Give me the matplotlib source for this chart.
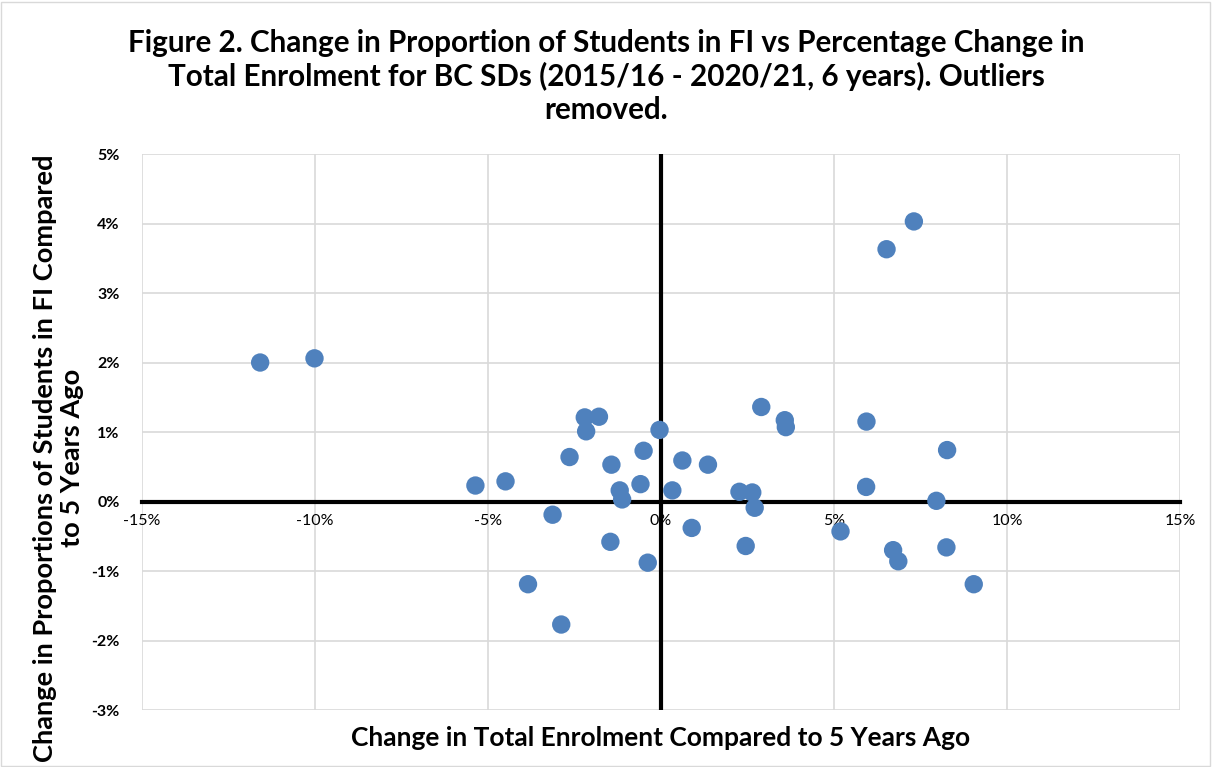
import matplotlib.pyplot as plt
from matplotlib.patches import Rectangle
from matplotlib.ticker import FuncFormatter, MultipleLocator

plt.rcParams['font.family'] = ['Lato', 'DejaVu Sans']

# % change in total enrolment vs change in proportion of FI students (both in %)
enrol_change = [-11.58, -10.01,
                -2.20, -1.79, -2.16, -0.04, -2.64, -0.50, -1.43, 0.62, 1.36,
                -5.36, -4.49, -1.19, -1.12, -0.59, 0.33, -3.13, -1.46, -0.38,
                -3.84, -2.88, 0.89,
                2.90, 3.58, 3.61, 5.94, 8.27, 2.27, 2.64, 2.71, 5.93, 7.96,
                5.19, 2.45, 6.71, 6.86, 8.25,
                7.31, 6.52, 9.04]
fi_change = [2.00, 2.06,
             1.21, 1.22, 1.01, 1.03, 0.64, 0.73, 0.53, 0.59, 0.53,
             0.23, 0.29, 0.16, 0.03, 0.25, 0.16, -0.19, -0.58, -0.88,
             -1.19, -1.77, -0.38,
             1.36, 1.17, 1.07, 1.15, 0.74, 0.14, 0.13, -0.09, 0.21, 0.01,
             -0.43, -0.64, -0.70, -0.86, -0.66,
             4.03, 3.63, -1.19]

fig = plt.figure(figsize=(12.12, 7.67), dpi=100)
# thin chart-area border
fig.patches.append(Rectangle((0.001, 0.001), 0.997, 0.997, transform=fig.transFigure,
                             fill=False, edgecolor='#d9d9d9', linewidth=1))
ax = fig.add_axes([0.117, 0.0743, 0.8566, 0.7249])

ax.scatter(enrol_change, fi_change, s=175, color='#4F81BD', edgecolors='none', zorder=3)

ax.set_xlim(-15, 15)
ax.set_ylim(-3, 5)
ax.xaxis.set_major_locator(MultipleLocator(5))
ax.yaxis.set_major_locator(MultipleLocator(1))
pct = FuncFormatter(lambda v, p: f'{v:.0f}%')
ax.xaxis.set_major_formatter(pct)
ax.yaxis.set_major_formatter(pct)
ax.grid(True, color='#d9d9d9', linewidth=1.2, zorder=0)
ax.set_axisbelow(True)

# axes crossing at zero, like Excel
for s in ['top', 'right', 'left']:
    ax.spines[s].set_visible(False)
ax.spines['bottom'].set_position(('data', 0))
ax.spines['bottom'].set_linewidth(3)
ax.spines['bottom'].set_zorder(2)
ax.axvline(0, color='black', linewidth=3, zorder=2)

ax.tick_params(axis='x', length=0, pad=9, labelsize=11.5)
ax.tick_params(axis='y', length=0, pad=16, labelsize=11.5)
for lab in ax.get_yticklabels():
    lab.set_fontweight('bold')

ax.set_xlabel('Change in Total Enrolment Compared to 5 Years Ago',
              fontsize=19, fontweight='bold')
ax.xaxis.set_label_coords(0.5, -0.028)
ax.set_ylabel('Change in Proportions of Students in FI Compared\nto 5 Years Ago',
              fontsize=19.6, fontweight='bold', linespacing=1.15)
ax.yaxis.set_label_coords(-0.056, 0.453)

fig.suptitle('Figure 2. Change in Proportion of Students in FI vs Percentage Change in\n'
             'Total Enrolment for BC SDs (2015/16 - 2020/21, 6 years). Outliers\nremoved.',
             fontsize=21.3, fontweight='bold', y=0.962, linespacing=1.2)

plt.savefig('out.png')
